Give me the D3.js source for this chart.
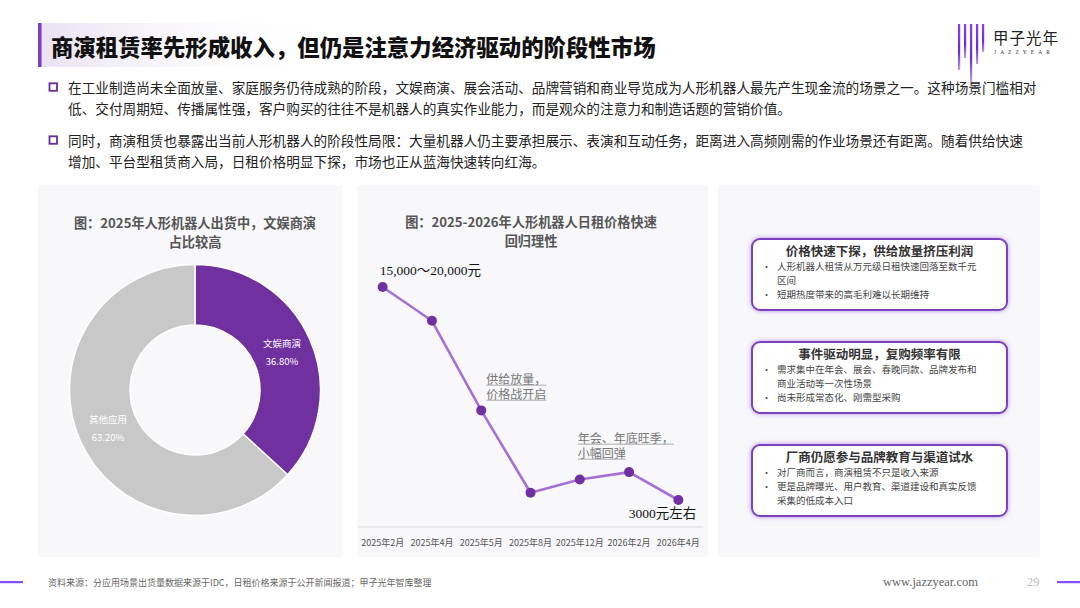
<!DOCTYPE html>
<html><head><meta charset="utf-8">
<script src="https://cdn.jsdelivr.net/npm/d3@7/dist/d3.min.js"></script>
<style>
html,body{margin:0;padding:0;background:#fff;}
svg{display:block;}
</style></head>
<body>
<svg id="c" width="1080" height="608" font-family="Noto Sans CJK SC, Noto Sans, sans-serif"></svg>
<script>
// ---------- data ----------
const pageTitle = "商演租赁率先形成收入，但仍是注意力经济驱动的阶段性市场";
const paragraphs = [
  ["在工业制造尚未全面放量、家庭服务仍待成熟的阶段，文娱商演、展会活动、品牌营销和商业导览成为人形机器人最先产生现金流的场景之一。这种场景门槛相对",
   "低、交付周期短、传播属性强，客户购买的往往不是机器人的真实作业能力，而是观众的注意力和制造话题的营销价值。"],
  ["同时，商演租赁也暴露出当前人形机器人的阶段性局限：大量机器人仍主要承担展示、表演和互动任务，距离进入高频刚需的作业场景还有距离。随着供给快速",
   "增加、平台型租赁商入局，日租价格明显下探，市场也正从蓝海快速转向红海。"]
];
const donutTitle = ["图：2025年人形机器人出货中，文娱商演", "占比较高"];
const donutLabels = ["文娱商演", "其他应用"];
const donutValues = [36.8, 63.2];
const lineTitle = ["图：2025-2026年人形机器人日租价格快速", "回归理性"];
const months = ["2025年2月","2025年4月","2025年5月","2025年8月","2025年12月","2026年2月","2026年4月"];
const prices = [17500, 15200, 9100, 3500, 4400, 4900, 3000];
const priceNotes = [{i:0, text:"15,000～20,000元"}, {i:6, text:"3000元左右"}];
const lineAnnotations = [
  {i:2, lines:["供给放量，","价格战开启"]},
  {i:4, lines:["年会、年底旺季，","小幅回弹"]}
];
const cardTitles = ["价格快速下探，供给放量挤压利润","事件驱动明显，复购频率有限","厂商仍愿参与品牌教育与渠道试水"];
const cardBullets = [
  [["人形机器人租赁从万元级日租快速回落至数千元","区间"],["短期热度带来的高毛利难以长期维持"]],
  [["需求集中在年会、展会、春晚同款、品牌发布和","商业活动等一次性场景"],["尚未形成常态化、刚需型采购"]],
  [["对厂商而言，商演租赁不只是收入来源"],["更是品牌曝光、用户教育、渠道建设和真实反馈","采集的低成本入口"]]
];
const sourceText = "资料来源：分应用场景出货量数据来源于IDC，日租价格来源于公开新闻报道；甲子光年智库整理";
const siteText = "www.jazzyear.com";
const pageNo = "29";

// ---------- drawing ----------
const svg = d3.select("#c");
const defs = svg.append("defs");
const PURPLE = "#7030A0";
const SERIF = "Liberation Serif, Noto Sans CJK SC";

const hg = defs.append("linearGradient").attr("id","hg").attr("x1","0").attr("x2","1");
hg.append("stop").attr("offset","0").attr("stop-color","#e9e2f2");
hg.append("stop").attr("offset","1").attr("stop-color","#ffffff").attr("stop-opacity",0);
const lg = defs.append("linearGradient").attr("id","lg").attr("x1","0").attr("x2","0").attr("y1","0").attr("y2","1");
lg.append("stop").attr("offset","0").attr("stop-color","#8b3dff");
lg.append("stop").attr("offset","0.6").attr("stop-color","#6a2bd8");
lg.append("stop").attr("offset","1").attr("stop-color","#b9a3d8");
const glow = defs.append("filter").attr("id","glow").attr("x","-10%").attr("y","-20%").attr("width","120%").attr("height","140%");
glow.append("feGaussianBlur").attr("in","SourceAlpha").attr("stdDeviation","2.5").attr("result","b");
glow.append("feFlood").attr("flood-color","#a06ae0").attr("flood-opacity","0.7");
glow.append("feComposite").attr("in2","b").attr("operator","in").attr("result","g");
const fm = glow.append("feMerge");
fm.append("feMergeNode").attr("in","g");
fm.append("feMergeNode").attr("in","SourceGraphic");

// header
svg.append("rect").attr("x",38).attr("y",23).attr("width",300).attr("height",44).attr("fill","url(#hg)");
svg.append("rect").attr("x",38).attr("y",23).attr("width",3.5).attr("height",44).attr("fill","#7a3fc0");
svg.append("text").attr("x",51).attr("y",46).attr("dominant-baseline","central")
  .attr("font-size",22.4).attr("font-weight",900).attr("fill","#111").text(pageTitle);

// logo
const logoBars = [[958,24,46],[964,24,34],[970,24,58],[976,24,40],[982,24,28]];
svg.selectAll("rect.lb").data(logoBars).join("rect").attr("class","lb")
  .attr("x",d=>d[0]).attr("y",d=>d[1]).attr("width",2.2).attr("height",d=>d[2]).attr("fill","url(#lg)");
svg.append("text").attr("x",993).attr("y",37).attr("dominant-baseline","central")
  .attr("font-size",15.5).attr("fill","#222").attr("letter-spacing",1).text("甲子光年");
svg.append("text").attr("x",994).attr("y",52).attr("dominant-baseline","central")
  .attr("font-size",5.5).attr("fill","#333").attr("letter-spacing",4).attr("font-family","Liberation Serif").text("JAZZYEAR");

// paragraphs
const paraY = [87, 140];
paragraphs.forEach((p, k) => {
  svg.append("rect").attr("x",49.5).attr("y",paraY[k]-3.7).attr("width",7.5).attr("height",7.5)
    .attr("fill","none").attr("stroke","#6a2c9c").attr("stroke-width",1.8);
  p.forEach((ln, j) => {
    svg.append("text").attr("x",68).attr("y",paraY[k]+j*20.8).attr("dominant-baseline","central")
      .attr("font-size",13.65).attr("fill","#222").text(ln);
  });
});

// panels
const panels = [[38,185,305,372],[357,185,351,372],[718,185,322,372]];
svg.selectAll("rect.pn").data(panels).join("rect").attr("class","pn")
  .attr("x",d=>d[0]).attr("y",d=>d[1]).attr("width",d=>d[2]).attr("height",d=>d[3])
  .attr("rx",4).attr("fill","#f8f8fb");

// donut chart
const dg = svg.append("g");
donutTitle.forEach((t,j)=>{
  dg.append("text").attr("x",195).attr("y",222+j*19).attr("text-anchor","middle").attr("dominant-baseline","central")
    .attr("font-size",13.2).attr("font-weight",700).attr("fill","#555").text(t);
});
const pie = d3.pie().sort(null).value(d=>d)(donutValues);
const arc = d3.arc().innerRadius(65).outerRadius(125.5);
const lblArc = d3.arc().innerRadius(95).outerRadius(95);
const color = d3.scaleOrdinal().domain(donutLabels).range([PURPLE, "#c8c8c9"]);
const cg = dg.append("g").attr("transform","translate(195,390)");
cg.selectAll("path").data(pie).join("path").attr("d",arc)
  .attr("fill",(d,i)=>color(donutLabels[i])).attr("stroke","#fff").attr("stroke-width",1.5);
cg.selectAll("g.lbl").data(pie).join("g").attr("class","lbl")
  .attr("transform",d=>`translate(${lblArc.centroid(d)})`)
  .each(function(d,i){
    const g = d3.select(this);
    g.append("text").attr("y",-9).attr("text-anchor","middle").attr("dominant-baseline","central")
      .attr("font-size",9.5).attr("fill","#fff").text(donutLabels[i]);
    g.append("text").attr("y",9).attr("text-anchor","middle").attr("dominant-baseline","central")
      .attr("font-size",9.5).attr("fill","#fff").text(d3.format(".2f")(d.data)+"%");
  });

// line chart
const lgp = svg.append("g");
lineTitle.forEach((t,j)=>{
  lgp.append("text").attr("x",531).attr("y",221+j*19).attr("text-anchor","middle").attr("dominant-baseline","central")
    .attr("font-size",13.2).attr("font-weight",700).attr("fill","#555").text(t);
});
const x = d3.scaleBand().domain(months).range([358,703]);
const y = d3.scaleLinear().domain([3000,17500]).range([500,287]);
const axisY = 527;
const xAxis = d3.axisBottom(x).tickSize(0).tickPadding(0);
const ax = lgp.append("g").attr("transform",`translate(0,${axisY})`).call(xAxis);
ax.attr("font-family",null).attr("font-size",null);
ax.select(".domain").attr("stroke","#d9d9d9").attr("stroke-width",1).attr("d","M358,0H703");
ax.selectAll("text").attr("y",15).attr("dy",0).attr("dominant-baseline","central").attr("font-size",9).attr("fill","#555");
const cx = d=>x(d)+x.bandwidth()/2;
const line = d3.line().x((d,i)=>cx(months[i])).y(d=>y(d));
lgp.append("path").datum(prices).attr("d",line).attr("fill","none").attr("stroke","#a56fd6").attr("stroke-width",2.6);
lgp.selectAll("circle").data(prices).join("circle")
  .attr("cx",(d,i)=>cx(months[i])).attr("cy",d=>y(d)).attr("r",5).attr("fill",PURPLE);

// value notes
lgp.append("text").attr("x",cx(months[priceNotes[0].i])-3).attr("y",y(prices[priceNotes[0].i])-17)
  .attr("dominant-baseline","central").attr("font-size",13.5).attr("fill","#111")
  .attr("font-family",SERIF).text(priceNotes[0].text);
lgp.append("text").attr("x",cx(months[priceNotes[1].i])+18).attr("y",y(prices[priceNotes[1].i])+13)
  .attr("text-anchor","end").attr("dominant-baseline","central").attr("font-size",13.5).attr("fill","#111")
  .attr("font-family",SERIF).text(priceNotes[1].text);

// annotations (one text element per note, lines as tspans)
const annPos = [{dx:5, y0:378}, {dx:-2, y0:437}];
lineAnnotations.forEach((a,k)=>{
  const ax0 = cx(months[a.i]) + annPos[k].dx;
  const tt = lgp.append("text").attr("x",ax0).attr("y",annPos[k].y0).attr("dominant-baseline","central")
    .attr("font-size",12).attr("fill","#777");
  a.lines.forEach((t,j)=>{
    const yy = annPos[k].y0 + j*15;
    const ts = tt.append("tspan").attr("x",ax0).attr("y",yy).text(t);
    const w = ts.node().getComputedTextLength();
    lgp.append("line").attr("x1",ax0).attr("x2",ax0+w).attr("y1",yy+7.2).attr("y2",yy+7.2)
      .attr("stroke","#999").attr("stroke-width",0.8);
  });
});

// cards
const cardY = [239, 342, 445];
const cardH = 71;
cardTitles.forEach((t,k)=>{
  const g = svg.append("g").attr("transform",`translate(752,${cardY[k]})`);
  g.append("rect").attr("width",255).attr("height",cardH).attr("rx",8).attr("fill","#fff")
    .attr("stroke","#7b3fc0").attr("stroke-width",2).attr("filter","url(#glow)");
  g.append("text").attr("x",127.5).attr("y",11).attr("text-anchor","middle").attr("dominant-baseline","central")
    .attr("font-size",12.5).attr("font-weight",700).attr("fill","#333").text(t);
  let ly = 27;
  const body = g.append("text").attr("font-size",9.5).attr("fill","#444").attr("dominant-baseline","central");
  const dots = g.append("text").attr("font-size",9).attr("fill","#444").attr("dominant-baseline","central");
  cardBullets[k].forEach(b=>{
    dots.append("tspan").attr("x",10).attr("y",ly).text("•");
    b.forEach(ln=>{
      body.append("tspan").attr("x",25).attr("y",ly).text(ln);
      ly += 13.8;
    });
  });
});

// footer
svg.append("rect").attr("x",0).attr("y",581).attr("width",23).attr("height",2.2).attr("fill","#8a4dff");
svg.append("rect").attr("x",1057).attr("y",581).attr("width",23).attr("height",2.2).attr("fill","#8a4dff");
svg.append("text").attr("x",48).attr("y",582).attr("dominant-baseline","central")
  .attr("font-size",9).attr("fill","#666").text(sourceText);
svg.append("text").attr("x",883).attr("y",582).attr("dominant-baseline","central")
  .attr("font-size",12.5).attr("fill","#666").attr("font-family","Liberation Serif").text(siteText);
svg.append("text").attr("x",1027).attr("y",582).attr("dominant-baseline","central")
  .attr("font-size",12.5).attr("fill","#bbb").attr("font-family","Liberation Serif").text(pageNo);
</script>
</body></html>
